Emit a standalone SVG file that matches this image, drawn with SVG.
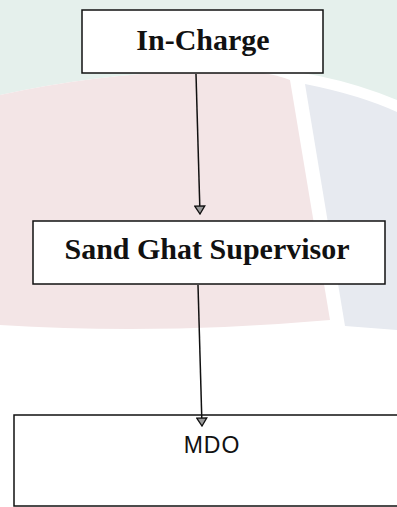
<svg xmlns="http://www.w3.org/2000/svg" width="397" height="507" viewBox="0 0 397 507">
<style>
.box{fill:#ffffff;stroke:#111111;stroke-width:1.5}
.serif{font-family:"Liberation Serif","Times New Roman",serif;font-weight:bold;font-size:30px;fill:#111111;text-anchor:middle}
.sans{font-family:"Liberation Sans",Arial,sans-serif;font-size:23px;fill:#111111;text-anchor:middle;letter-spacing:1px}
.conn{stroke:#111111;stroke-width:1.5;fill:none}
</style>
<defs>
<marker id="arrow" viewBox="0 0 10 12" refX="9" refY="6" markerWidth="10" markerHeight="12" markerUnits="userSpaceOnUse" orient="auto">
<path d="M1,1 L9,6 L1,11 Z" fill="#9a9a9a" stroke="#111111" stroke-width="1.3"/>
</marker>
</defs>
<g id="background">
<rect x="0" y="0" width="397" height="507" fill="#ffffff"/>
<path d="M0,0 L397,0 L397,100 Q300,60 200,70 Q90,75 0,95 Z" fill="#e5f0ec"/>
<path d="M0,95 Q90,75 200,70 Q260,68 290,80 L330,320 Q160,335 0,325 Z" fill="#f3e5e6"/>
<path d="M305,84 Q360,95 397,112 L397,330 L345,326 Z" fill="#e7eaf0"/>
</g>
<g id="node-incharge">
<rect class="box" x="82" y="10" width="241" height="63"/>
<text class="serif" x="203" y="50">In-Charge</text>
</g>
<g id="node-supervisor">
<rect class="box" x="33" y="221" width="352" height="63"/>
<text class="serif" x="207" y="259">Sand Ghat Supervisor</text>
</g>
<g id="node-mdo">
<rect class="box" x="14" y="415" width="400" height="91"/>
<text class="sans" x="212" y="453">MDO</text>
</g>
<g id="connectors">
<path class="conn" d="M196,74 L200,214" marker-end="url(#arrow)"/>
<path class="conn" d="M198,285 L202,426" marker-end="url(#arrow)"/>
</g>
</svg>
